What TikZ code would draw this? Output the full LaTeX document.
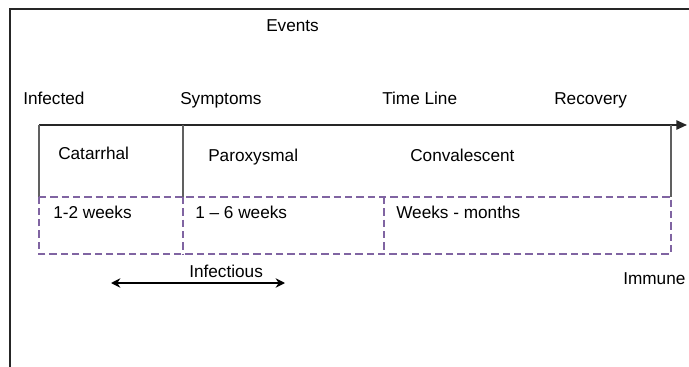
\documentclass[tikz,border=0pt]{standalone}
\usepackage{fontspec}
\setmainfont{Liberation Sans}
\usetikzlibrary{arrows.meta}
\definecolor{phasepurple}{HTML}{8064A2}
\definecolor{divgray}{HTML}{606060}
\begin{document}
\begin{tikzpicture}[x=0.75pt,y=-0.75pt,
  lbl/.style={inner sep=0pt,anchor=base west,font=\fontsize{12.9}{15}\selectfont},
  frame/.style={line width=1.5pt,draw=black!85},
  axis/.style={line width=1.3pt,draw=black!85,-{Triangle[length=8pt,width=7pt]}},
  divider/.style={line width=0.8pt,draw=divgray},
  phase/.style={line width=1.5pt,draw=phasepurple,dash pattern=on 5.5pt off 3pt},
  span/.style={line width=1.8pt,draw=black,{Stealth[length=7pt,width=7pt]}-{Stealth[length=7pt,width=7pt]}}]
\useasboundingbox (0,0) rectangle (689,367);

% outer frame: top and left edges
\coordinate (ftr) at (689,9.5);
\coordinate (ftl) at (10,9.5);
\coordinate (fbl) at (10,367);
\draw[frame] (ftr) -- (ftl) -- (fbl);

% heading and event labels
\node[lbl] (events) at (266,32) {Events};
\node[lbl] (infected) at (23,105) {Infected};
\node[lbl] (symptoms) at (180,105) {Symptoms};
\node[lbl] (timeline) at (382,105) {Time Line};
\node[lbl] (recovery) at (554,105) {Recovery};

% time axis
\coordinate (a0) at (39,125);
\coordinate (a1) at (183,125);
\coordinate (a2) at (671,125);
\coordinate (aend) at (687,125);
\draw[axis] (a0) -- (aend);

% phase band
\coordinate (b0) at (39,197);
\coordinate (b1) at (183,197);
\coordinate (b2) at (384,197);
\coordinate (b3) at (671,197);
\coordinate (c0) at (39,254);
\coordinate (c1) at (183,254);
\coordinate (c2) at (384,254);
\coordinate (c3) at (671,254);
\draw[divider] (a0) -- (b0);
\draw[divider] (a1) -- (b1);
\draw[divider] (a2) -- (b3);
\draw[phase] (b0) -- (b3) -- (c3) -- (c0) -- cycle;
\draw[phase] (b1) -- (c1);
\draw[phase] (b2) -- (c2);

% phase names
\node[lbl] (catarrhal) at (58,160) {Catarrhal};
\node[lbl] (paroxysmal) at (208,162) {Paroxysmal};
\node[lbl] (convalescent) at (410,162) {Convalescent};

% durations
\node[lbl] (d1) at (53,219) {1-2 weeks};
\node[lbl] (d2) at (195,219) {1 -- 6 weeks};
\node[lbl] (d3) at (396,219) {Weeks - months};

% infectious period
\node[lbl] (infectious) at (189,277) {Infectious};
\coordinate (s0) at (111,283);
\coordinate (s1) at (285,283);
\draw[span] (s0) -- (s1);

\node[lbl] (immune) at (623,284) {Immune};
\end{tikzpicture}
\end{document}
